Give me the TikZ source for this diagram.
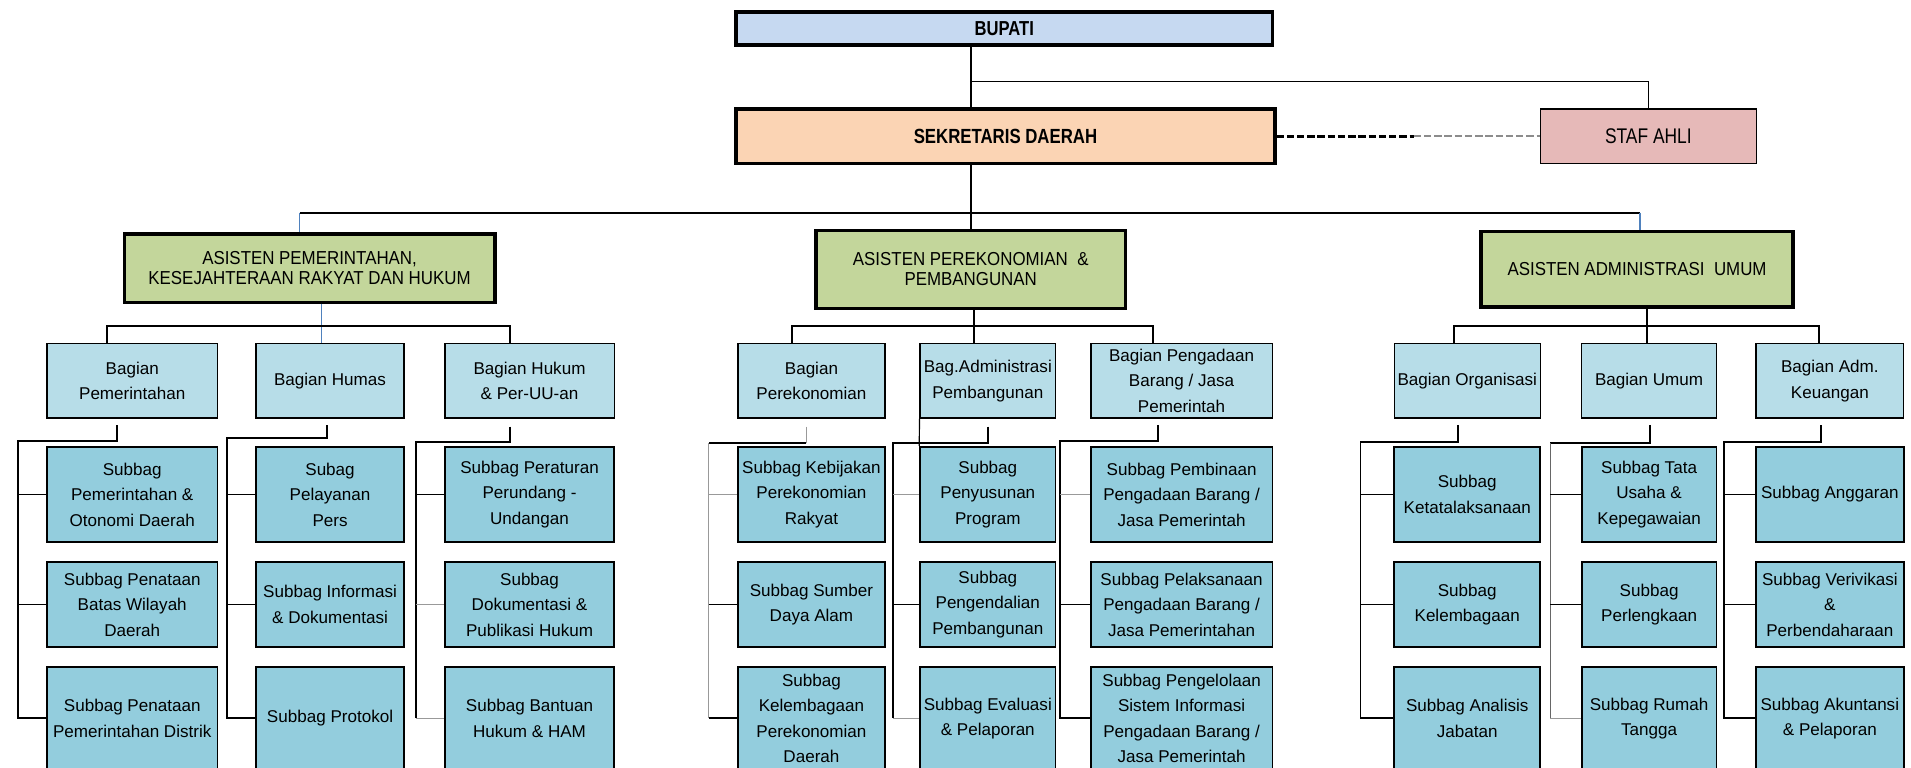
\documentclass[tikz,border=0pt]{standalone}
\usepackage{fontspec}
\setmainfont{Liberation Sans}
\newfontfamily\narrowfont{Liberation Sans}[FakeStretch=0.82]
\newfontfamily\semifont{Liberation Sans}[FakeStretch=0.9]
\usepackage{tikz}

\definecolor{bupatifill}{HTML}{C6D9F1}
\definecolor{sekdafill}{HTML}{FBD4B4}
\definecolor{staffill}{HTML}{E6B9B8}
\definecolor{asistenfill}{HTML}{C3D69B}
\definecolor{bagianfill}{HTML}{B7DDE8}
\definecolor{subbagfill}{HTML}{93CDDD}
\definecolor{garisbiru}{HTML}{4F81BD}

\begin{document}
\begin{tikzpicture}[x=0.5pt, y=-0.5pt,
  kotak/.style={draw, inner sep=0pt, align=center, font=\fontsize{7}{10.5}\selectfont},
  bagian/.style={kotak, fill=bagianfill, line width=0.6pt, minimum height=30.5pt},
  subbag/.style={kotak, fill=subbagfill, line width=0.7pt},
  asisten/.style={kotak, fill=asistenfill, line width=1.4pt, font=\semifont\fontsize{7.7}{8.2}\selectfont},
  r1/.style={minimum height=39.25pt},
  r2/.style={minimum height=35pt},
  r3/.style={minimum height=42.5pt},
  w1/.style={minimum width=70pt},
  w2/.style={minimum width=60.8pt},
  w3/.style={minimum width=69.5pt},
  w4/.style={minimum width=60.2pt},
  w5/.style={minimum width=55.5pt},
  w6/.style={minimum width=74.5pt},
  w7/.style={minimum width=59.9pt},
  w8/.style={minimum width=55.3pt},
  w9/.style={minimum width=60.6pt},
  link/.style={line width=0.8pt},
  thinlink/.style={line width=0.5pt},
  graylink/.style={line width=0.7pt, black!40},
  bluelink/.style={line width=0.5pt, garisbiru},
  dashlink/.style={line width=1.2pt, dash pattern=on 3pt off 1.2pt},
]
\useasboundingbox (0,0) rectangle (1568,630);

% Pimpinan
\node[kotak, fill=bupatifill, line width=1.4pt, minimum width=220pt, minimum height=13.5pt,
  font=\narrowfont\bfseries\fontsize{8.3}{9}\selectfont] (bupati) at (824,23.4) {BUPATI};
\node[kotak, fill=sekdafill, line width=1.4pt, minimum width=221pt, minimum height=22.25pt,
  font=\narrowfont\bfseries\fontsize{8.4}{9}\selectfont] (sekda) at (825,111.75) {SEKRETARIS DAERAH};
\node[kotak, fill=staffill, line width=0.5pt, minimum width=88.5pt, minimum height=22.25pt,
  font=\narrowfont\fontsize{8.7}{9}\selectfont] (staf) at (1352.5,111.75) {STAF AHLI};

% Asisten
\node[asisten, minimum width=152pt, minimum height=28pt] (asp) at (254,220)
  {ASISTEN PEMERINTAHAN,\\KESEJAHTERAAN RAKYAT DAN HUKUM};
\node[asisten, minimum width=127pt, minimum height=32pt] (ase) at (796.5,221)
  {ASISTEN PEREKONOMIAN \ \&\\PEMBANGUNAN};
\node[asisten, minimum width=127.9pt, minimum height=31pt] (asa) at (1343.2,221)
  {ASISTEN ADMINISTRASI \ UMUM};

% Bagian
\node[bagian, w1] (pem) at (108.5,312.5) {Bagian\\Pemerintahan};
\node[bagian, w2] (hum) at (270.8,312.5) {Bagian Humas};
\node[bagian, w3] (huk) at (434.5,312.5) {Bagian Hukum\\\& Per-UU-an};
\node[bagian, w4] (eko) at (665.8,312.5) {Bagian\\Perekonomian};
\node[bagian, w5] (adm) at (810.5,312.5) {Bag.Administrasi\\Pembangunan};
\node[bagian, w6] (bjp) at (969.5,312.5) {Bagian Pengadaan\\Barang / Jasa\\Pemerintah};
\node[bagian, w7] (org) at (1203.9,312.5) {Bagian Organisasi};
\node[bagian, w8] (umu) at (1353.1,312.5) {Bagian Umum};
\node[bagian, w9] (keu) at (1501.4,312.5) {Bagian Adm.\\Keuangan};

% Subbag baris 1
\node[subbag, w1, r1] (pem1) at (108.5,405.75) {Subbag\\Pemerintahan \&\\Otonomi Daerah};
\node[subbag, w2, r1] (hum1) at (270.8,405.75) {Subag\\Pelayanan\\Pers};
\node[subbag, w3, r1] (huk1) at (434.5,405.75) {Subbag Peraturan\\Perundang -\\Undangan};
\node[subbag, w4, r1] (eko1) at (665.8,405.75) {Subbag Kebijakan\\Perekonomian\\Rakyat};
\node[subbag, w5, r1] (adm1) at (810.5,405.75) {Subbag\\Penyusunan\\Program};
\node[subbag, w6, r1] (bjp1) at (969.5,405.75) {Subbag Pembinaan\\Pengadaan Barang /\\Jasa Pemerintah};
\node[subbag, w7, r1] (org1) at (1203.9,405.75) {Subbag\\Ketatalaksanaan};
\node[subbag, w8, r1] (umu1) at (1353.1,405.75) {Subbag Tata\\Usaha \&\\Kepegawaian};
\node[subbag, w9, r1] (keu1) at (1501.4,405.75) {Subbag Anggaran};

% Subbag baris 2
\node[subbag, w1, r2] (pem2) at (108.5,496) {Subbag Penataan\\Batas Wilayah\\Daerah};
\node[subbag, w2, r2] (hum2) at (270.8,496) {Subbag Informasi\\\& Dokumentasi};
\node[subbag, w3, r2] (huk2) at (434.5,496) {Subbag\\Dokumentasi \&\\Publikasi Hukum};
\node[subbag, w4, r2] (eko2) at (665.8,496) {Subbag Sumber\\Daya Alam};
\node[subbag, w5, r2] (adm2) at (810.5,496) {Subbag\\Pengendalian\\Pembangunan};
\node[subbag, w6, r2] (bjp2) at (969.5,496) {Subbag Pelaksanaan\\Pengadaan Barang /\\Jasa Pemerintahan};
\node[subbag, w7, r2] (org2) at (1203.9,496) {Subbag\\Kelembagaan};
\node[subbag, w8, r2] (umu2) at (1353.1,496) {Subbag\\Perlengkaan};
\node[subbag, w9, r2] (keu2) at (1501.4,496) {Subbag Verivikasi\\\&\\Perbendaharaan};

% Subbag baris 3
\node[subbag, w1, r3] (pem3) at (108.5,589.5) {Subbag Penataan\\Pemerintahan Distrik};
\node[subbag, w2, r3] (hum3) at (270.8,589.5) {Subbag Protokol};
\node[subbag, w3, r3] (huk3) at (434.5,589.5) {Subbag Bantuan\\Hukum \& HAM};
\node[subbag, w4, r3] (eko3) at (665.8,589.5) {Subbag\\Kelembagaan\\Perekonomian\\Daerah};
\node[subbag, w5, r3] (adm3) at (810.5,589.5) {Subbag Evaluasi\\\& Pelaporan};
\node[subbag, w6, r3] (bjp3) at (969.5,589.5) {Subbag Pengelolaan\\Sistem Informasi\\Pengadaan Barang /\\Jasa Pemerintah};
\node[subbag, w7, r3] (org3) at (1203.9,589.5) {Subbag Analisis\\Jabatan};
\node[subbag, w8, r3] (umu3) at (1353.1,589.5) {Subbag Rumah\\Tangga};
\node[subbag, w9, r3] (keu3) at (1501.4,589.5) {Subbag Akuntansi\\\& Pelaporan};

% Garis pimpinan
\coordinate (spine) at (797,67);
\coordinate (dmid) at (1160,111.75);
\draw[link] (bupati.south -| spine) -- (sekda.north -| spine);
\draw[thinlink] (spine) -| (staf.north);
\draw[dashlink] (sekda.east) -- (dmid);
\draw[dashlink, line width=0.8pt, black!45] (dmid) -- (staf.west);

\coordinate (hub) at (797,174.5);
\coordinate (hubL) at (246,174.5);
\coordinate (hubR) at (1345.6,174.5);
\draw[link] (sekda.south -| hub) -- (hub);
\draw[link] (hubL) -- (hubR);
\draw[link] (hub) -- (ase.north -| hub);
\draw[bluelink] (hubL) -- (asp.north -| hubL);
\draw[bluelink] (hubR) -- (asa.north -| hubR);

% Asisten ke bagian
\coordinate (g1) at (264,267.5);
\coordinate (g1L) at (88,267.5);
\coordinate (g1R) at (418.6,267.5);
\draw[bluelink] (asp.south -| g1) -- (hum.north -| g1);
\draw[link] (pem.north -| g1L) -- (g1L) -- (g1R) -- (huk.north -| g1R);

\coordinate (g2) at (799,267.5);
\coordinate (g2L) at (649.7,267.5);
\coordinate (g2R) at (946.4,267.5);
\draw[link] (ase.south -| g2) -- (adm.north -| g2);
\draw[link] (eko.north -| g2L) -- (g2L) -- (g2R) -- (bjp.north -| g2R);

\coordinate (g3) at (1351,267.5);
\coordinate (g3L) at (1192.8,267.5);
\coordinate (g3R) at (1492.6,267.5);
\draw[link] (asa.south -| g3) -- (umu.north -| g3);
\draw[link] (org.north -| g3L) -- (g3L) -- (g3R) -- (keu.north -| g3R);

% Bagian ke subbag
\coordinate (pemT) at (96,349);   \coordinate (pemK) at (15,362);
\draw[link] (pemT) |- (pemK) |- (pem3.west);
\draw[link] (pemK |- pem1.west) -- (pem1.west);
\draw[link] (pemK |- pem2.west) -- (pem2.west);

\coordinate (humT) at (268,349);  \coordinate (humK) at (186.5,359);
\draw[link] (humT) |- (humK) |- (hum3.west);
\draw[link] (humK |- hum1.west) -- (hum1.west);
\draw[link] (humK |- hum2.west) -- (hum2.west);

\coordinate (hukT) at (418.6,350); \coordinate (hukK) at (341,363);
\draw[link] (hukT) |- (hukK) -- (hukK |- huk3.west);
\draw[link] (hukK |- huk1.west) -- (huk1.west);
\draw[graylink] (hukK |- huk2.west) -- (huk2.west);
\draw[graylink] (hukK |- huk3.west) -- (huk3.west);

\coordinate (ekoT) at (661.7,350); \coordinate (ekoK) at (581.4,363.6);
\draw[graylink] (ekoT) -- (ekoT |- ekoK);
\draw[link] (ekoT |- ekoK) -- (ekoK);
\draw[graylink] (ekoK) -- (ekoK |- eko3.west);
\draw[graylink] (ekoK |- eko1.west) -- (eko1.west);
\draw[link] (ekoK |- eko2.west) -- (eko2.west);
\draw[link] (ekoK |- eko3.west) -- (eko3.west);

\coordinate (admT) at (810.6,350); \coordinate (admK) at (732.7,363.6);
\draw[link] (admT) |- (admK) -- (admK |- adm3.west);
\draw[graylink] (admK |- adm1.west) -- (adm1.west);
\draw[link] (admK |- adm2.west) -- (adm2.west);
\draw[graylink] (admK |- adm3.west) -- (adm3.west);
\draw[thinlink] (adm.south west) -- (adm1.north west);

\coordinate (bjpT) at (949.8,348.7); \coordinate (bjpK) at (869.8,361.6);
\draw[link] (bjpT) |- (bjpK) |- (bjp3.west);
\draw[graylink] (bjpK |- bjp1.west) -- (bjp1.west);
\draw[link] (bjpK |- bjp2.west) -- (bjp2.west);

\coordinate (orgT) at (1196.5,348.7); \coordinate (orgK) at (1116.3,363);
\draw[link] (orgT) |- (orgK) |- (org3.west);
\draw[link] (orgK |- org1.west) -- (org1.west);
\draw[link] (orgK |- org2.west) -- (org2.west);

\coordinate (umuT) at (1354,348.7); \coordinate (umuK) at (1272,363.6);
\draw[link] (umuT) |- (umuK);
\draw[graylink, black!60, line width=0.5pt] (umuK) -- (umuK |- umu3.west);
\draw[link] (umuK |- umu1.west) -- (umu1.west);
\draw[thinlink] (umuK |- umu2.west) -- (umu2.west);
\draw[graylink] (umuK |- umu3.west) -- (umu3.west);

\coordinate (keuT) at (1494.3,349); \coordinate (keuK) at (1414.4,363);
\draw[link] (keuT) |- (keuK) |- (keu3.west);
\draw[link] (keuK |- keu1.west) -- (keu1.west);
\draw[link] (keuK |- keu2.west) -- (keu2.west);
\end{tikzpicture}
\end{document}
